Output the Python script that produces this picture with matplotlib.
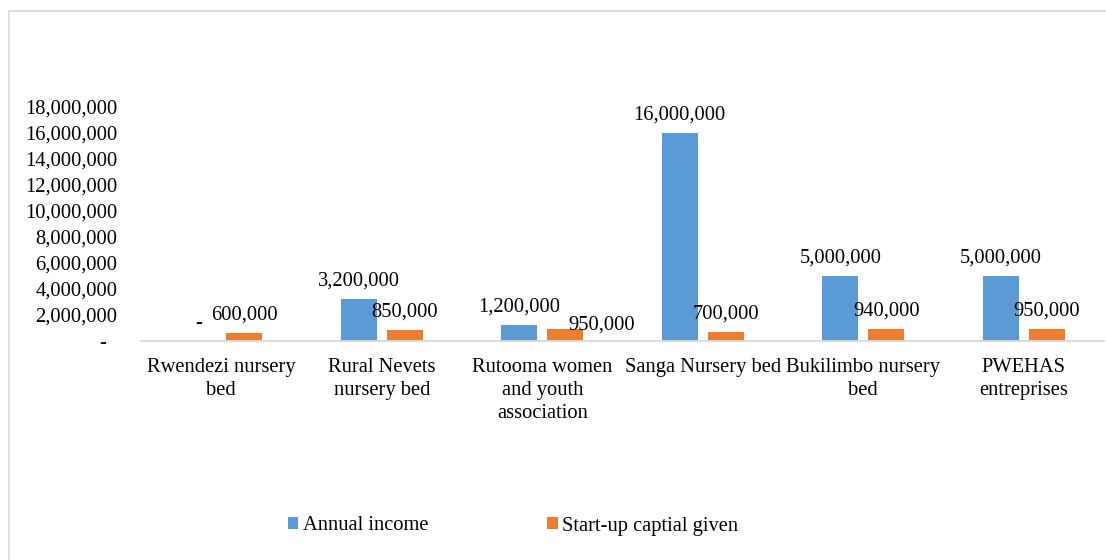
import matplotlib
matplotlib.use("Agg")
import matplotlib.pyplot as plt
from matplotlib.patches import Rectangle
from matplotlib.ticker import FuncFormatter
import numpy as np

categories = [
    "Rwendezi nursery\nbed",
    "Rural Nevets\nnursery bed",
    "Rutooma women\nand youth\nassociation",
    "Sanga Nursery bed",
    "Bukilimbo nursery\nbed",
    "PWEHAS\nentreprises",
]
annual_income = [0, 3200000, 1200000, 16000000, 5000000, 5000000]
startup_capital = [600000, 850000, 950000, 700000, 940000, 950000]
series_names = ["Annual income", "Start-up captial given"]

BLUE = "#5B9BD5"
ORANGE = "#ED7D31"
GRID_GREY = "#D9D9D9"
FONT = "Liberation Serif"
FS = 14.8

plt.rcParams["font.family"] = [FONT, "DejaVu Serif"]

W, H = 1106, 560
fig = plt.figure(figsize=(W / 100, H / 100), dpi=100)
ax = fig.add_axes([141 / W, 1 - 341 / H, (1104 - 141) / W, (341 - 107) / H])

x = np.arange(len(categories))
bw = 0.224
off = 0.143
b1 = ax.bar(x - off, annual_income, bw, color=BLUE, label=series_names[0], zorder=2)
b2 = ax.bar(x + off, startup_capital, bw, color=ORANGE, label=series_names[1], zorder=2)

ax.set_xlim(-0.5, len(categories) - 0.5)
ax.set_ylim(0, 18000000)
ax.set_yticks(np.arange(0, 18000001, 2000000))
ax.yaxis.set_major_formatter(FuncFormatter(lambda v, p: f"{v:,.0f}" if v else "-  "))
ax.set_xticks(x)
ax.set_xticklabels(categories, fontsize=FS, linespacing=1.29)

for s in ["top", "right", "left"]:
    ax.spines[s].set_visible(False)
ax.spines["bottom"].set_color(GRID_GREY)
ax.spines["bottom"].set_linewidth(1.3)
ax.tick_params(axis="both", length=0, colors="#000000", labelsize=FS)
ax.tick_params(axis="y", pad=17)
ax.tick_params(axis="x", pad=12.5)

def fmt(v):
    return f"{v:,.0f}" if v else "-"

# data labels above each bar; one label nudged sideways
label_shift = {(1, 2): (36, 4)}
for si, bars in enumerate([b1, b2]):
    for ci, rect in enumerate(bars):
        v = rect.get_height()
        cx = rect.get_x() + rect.get_width() / 2
        dx, dy = label_shift.get((si, ci), (0, 18))
        ax.annotate(fmt(v), xy=(cx, v), xytext=(dx, dy), textcoords="offset pixels",
                    ha="center", va="center", fontsize=FS, zorder=3)

leg = fig.legend(handles=[b1, b2], labels=series_names, loc="center",
                 bbox_to_anchor=(513 / W, 1 - 526 / H), ncol=2, frameon=False,
                 fontsize=FS, handlelength=0.52, handleheight=0.52,
                 handletextpad=0.2, columnspacing=5.8, borderpad=0, borderaxespad=0)

# chart-area border
fig.patches.append(Rectangle((8.5 / W, -0.1), 1.2, 1.1 - 11 / H, transform=fig.transFigure,
                             fill=False, edgecolor=GRID_GREY, linewidth=1.2, zorder=0))

fig.savefig("out.png", dpi=100)
